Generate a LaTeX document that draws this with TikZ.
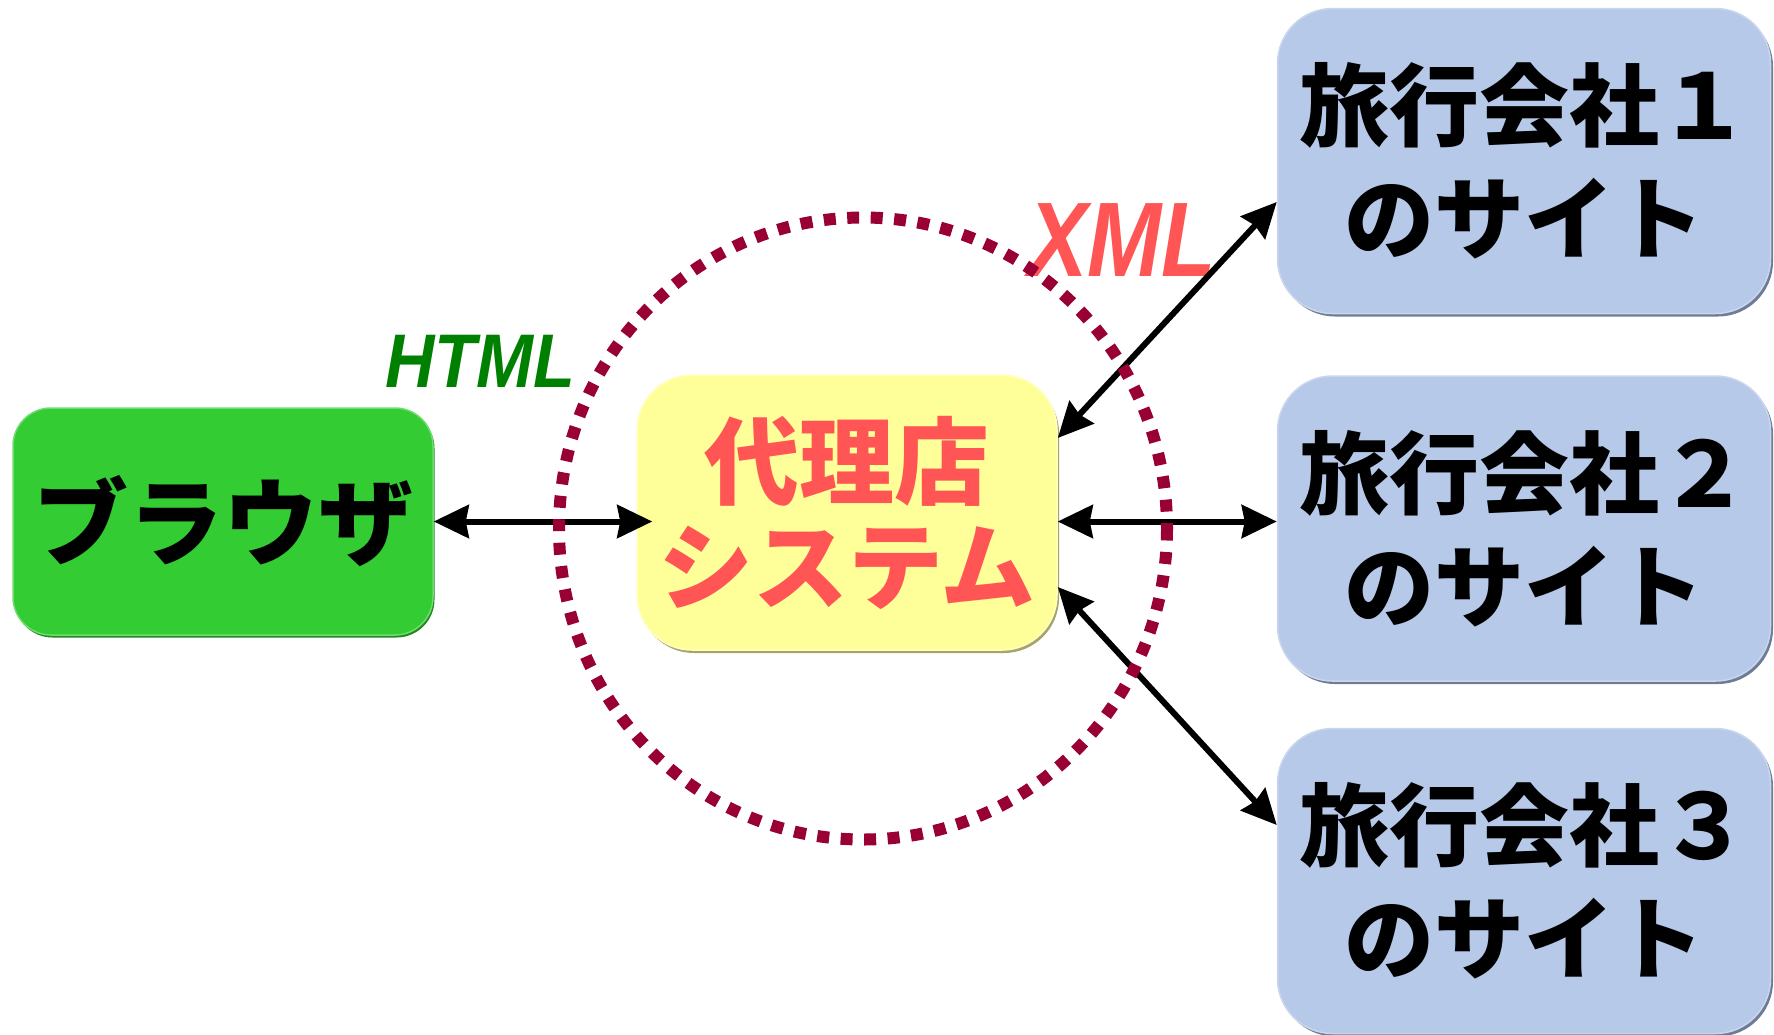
\documentclass[tikz,border=0pt]{standalone}
\usepackage{fontspec}
\usetikzlibrary{arrows.meta,shadows,calc}
\newfontfamily\jpfont{Noto Sans CJK JP}
\newfontfamily\latinbold{Liberation Sans}

\definecolor{browsergreen}{HTML}{33CC33}
\definecolor{browseredge}{HTML}{1F8A1F}
\definecolor{agentyellow}{HTML}{FFFF99}
\definecolor{agentedge}{HTML}{A5A56A}
\definecolor{siteblue}{HTML}{B7C9E9}
\definecolor{siteedge}{HTML}{6E7C95}
\definecolor{sitelight}{HTML}{C9D6EE}
\definecolor{agentred}{HTML}{FF5555}
\definecolor{htmlgreen}{HTML}{008000}
\definecolor{ringred}{HTML}{990033}

\tikzset{
  box/.style={rectangle, align=center, inner sep=0pt, text=black},
  browserbox/.style={box, fill=browsergreen, draw=browsergreen!70!white, line width=1.5pt,
    rounded corners=38pt, minimum width=420pt, minimum height=227pt,
    general shadow={shadow xshift=1.5pt, shadow yshift=-2.5pt, fill=browseredge}},
  agentbox/.style={box, fill=agentyellow, draw=agentyellow!60!white, line width=1.5pt,
    rounded corners=55pt, minimum width=420pt, minimum height=275pt,
    general shadow={shadow xshift=2pt, shadow yshift=-3pt, fill=agentedge}},
  sitebox/.style={box, fill=siteblue, draw=sitelight, line width=1.5pt,
    rounded corners=55pt, minimum width=493pt, minimum height=305pt,
    general shadow={shadow xshift=2.5pt, shadow yshift=-3pt, fill=siteedge}},
  jplabel/.style={font=\jpfont\bfseries\fontsize{95}{100}\selectfont},
  sitelabel/.style={font=\jpfont\bfseries\fontsize{90}{113}\selectfont},
  agentlabel/.style={font=\jpfont\bfseries\fontsize{95}{105}\selectfont, text=agentred},
  biarrow/.style={line width=6pt,
    {Stealth[length=35pt,width=33pt,inset=3pt]}-{Stealth[length=35pt,width=33pt,inset=3pt]}},
  ring/.style={draw=ringred, line width=12pt, dash pattern=on 12pt off 11.5pt}
}

\begin{document}
\begin{tikzpicture}[x=1pt,y=-1pt]
\useasboundingbox (0,0) rectangle (1774,1034);

% boxes
\node[browserbox, jplabel] (browser) at (223,521.5) {ブラウザ};
\node[agentbox, agentlabel] (agent) at (847,512.5) {代理店\\システム};
\node[sitebox, sitelabel] (site1) at (1524,161) {旅行会社１\\のサイト};
\node[sitebox, sitelabel] (site2) at (1524,528.5) {旅行会社２\\のサイト};
\node[sitebox, sitelabel] (site3) at (1524,881) {旅行会社３\\のサイト};

% protocol labels
\node[text=htmlgreen, inner sep=0pt] (html) at (480,361)
  {\latinbold\bfseries\itshape\fontsize{76}{80}\selectfont\scalebox{0.9}[1]{HTML}};
\node[text=agentred, inner sep=0pt] (xml) at (1122,240)
  {\latinbold\bfseries\itshape\fontsize{106}{110}\selectfont\scalebox{0.84}[1]{XML}};

% connector end points
\coordinate (agentin) at ([xshift=16pt]agent.west |- browser.east);
\coordinate (agentout) at (agent.east |- browser.east);
\coordinate (site2in) at (site2.west |- browser.east);
\coordinate (agentup) at ([yshift=74.5pt]agent.east);
\coordinate (agentdown) at ([yshift=-74.5pt]agent.east);
\coordinate (site1in) at ([yshift=-41pt]site1.west);
\coordinate (site3in) at ([yshift=56pt]site3.west);

% connectors
\draw[biarrow] (browser.east) -- (agentin);
\draw[biarrow] (agentout) -- (site2in);
\draw[biarrow] (agentup) -- (site1in);
\draw[biarrow] (agentdown) -- (site3in);

% dotted boundary around the agent system
\draw[ring] (863,528.5) ellipse [x radius=304, y radius=311];
\end{tikzpicture}
\end{document}
